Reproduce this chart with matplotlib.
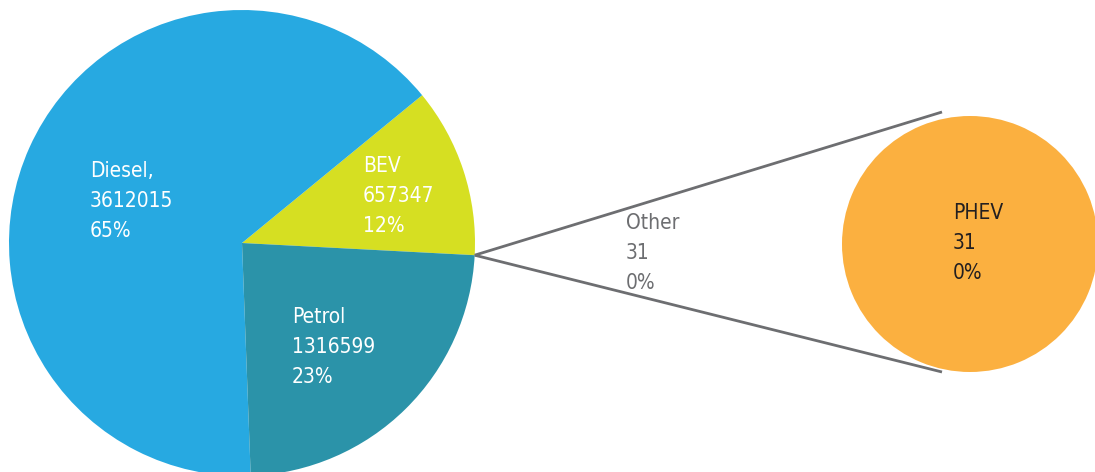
import numpy as np
import matplotlib
matplotlib.use("Agg")
import matplotlib.pyplot as plt

# ---- data ----
main_labels = ["Other", "BEV", "Diesel", "Petrol"]
main_values = [31, 657347, 3612015, 1316599]
main_pct_labels = ["0%", "12%", "65%", "23%"]
main_colors = ["#6d6e71", "#D6DF22", "#27A9E1", "#2B93A9"]
sub_labels = ["PHEV"]
sub_values = [31]
sub_pct_labels = ["0%"]
sub_colors = ["#FBB040"]

W, H = 1095, 472
fig = plt.figure(figsize=(W / 100, H / 100), dpi=100)
ax = fig.add_axes([0, 0, 1, 1])

def Y(y):  # image row -> data y
    return H - y

c_main = (242, Y(243))
r_main = 233
start = -3.0
ax.pie(main_values, colors=main_colors, startangle=start,
       counterclock=True, center=c_main, radius=r_main,
       wedgeprops=dict(linewidth=0))

c_sub = (970, Y(244))
r_sub = 128
ax.pie(sub_values, colors=sub_colors, center=c_sub, radius=r_sub,
       wedgeprops=dict(linewidth=0))
ax.set_xlim(0, W)
ax.set_ylim(0, H)
ax.set_aspect("equal")
ax.axis("off")

# connector lines from the "Other" wedge
total = sum(main_values)
a_other = np.deg2rad(start + 360 * main_values[0] / total / 2)
p0 = (c_main[0] + r_main * np.cos(a_other), c_main[1] + r_main * np.sin(a_other))
for end in [(942, Y(112)), (942, Y(372))]:
    ax.plot([p0[0], end[0]], [p0[1], end[1]], color="#6d6e71", lw=2,
            solid_capstyle="butt")

font = dict(fontsize=15, fontstretch="condensed", family="DejaVu Sans")

labels = {
    "Diesel": ("Diesel,", 90, 177, "white"),
    "BEV": ("BEV", 363, 172, "white"),
    "Petrol": ("Petrol", 292, 323, "white"),
    "Other": ("Other", 626, 229, "#6d6e71"),
}
for name, val, p in zip(main_labels, main_values, main_pct_labels):
    txt, x, yb, col = labels[name]
    for i, line in enumerate([txt, str(val), p]):
        ax.text(x, Y(yb + 30 * i), line, color=col, va="baseline", ha="left", **font)

for name, val, p in zip(sub_labels, sub_values, sub_pct_labels):
    for i, line in enumerate([name, str(val), p]):
        ax.text(953, Y(219 + 30 * i), line, color="#231F20", va="baseline",
                ha="left", **font)

fig.savefig("out.png", dpi=100)
